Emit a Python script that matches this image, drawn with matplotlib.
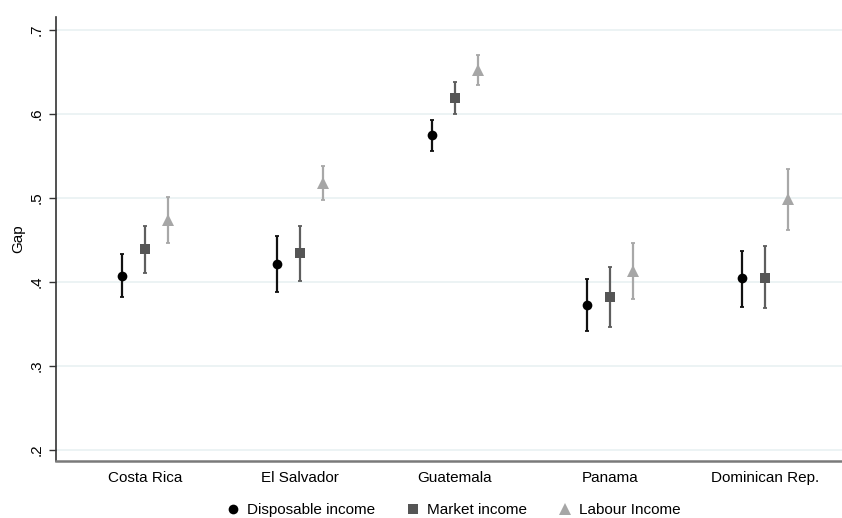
import matplotlib
matplotlib.use('Agg')
import matplotlib.pyplot as plt
import numpy as np

plt.rcParams['font.family'] = ['Liberation Sans', 'DejaVu Sans']

countries = ['Costa Rica', 'El Salvador', 'Guatemala', 'Panama', 'Dominican Rep.']

# point estimates and confidence bounds
disp = [0.407, 0.421, 0.574, 0.372, 0.404]
disp_lo = [0.382, 0.388, 0.555, 0.341, 0.370]
disp_hi = [0.433, 0.454, 0.593, 0.403, 0.437]

market = [0.439, 0.434, 0.619, 0.382, 0.405]
market_lo = [0.410, 0.401, 0.600, 0.346, 0.369]
market_hi = [0.466, 0.466, 0.638, 0.418, 0.442]

labour = [0.474, 0.518, 0.652, 0.413, 0.499]
labour_lo = [0.446, 0.497, 0.634, 0.379, 0.462]
labour_hi = [0.501, 0.538, 0.670, 0.446, 0.534]

series = [
    ('Disposable income', disp, disp_lo, disp_hi, 'o', '#000000', '#111111', 7.0),
    ('Market income', market, market_lo, market_hi, 's', '#555555', '#5e5e5e', 7.2),
    ('Labour Income', labour, labour_lo, labour_hi, '^', '#a6a6a6', '#a8a8a8', 8.0),
]

fig = plt.figure(figsize=(8.42, 5.18), dpi=100)
ax = fig.add_axes([56/842, 1 - 461/518, 1 - 56/842, (461 - 17)/518])

x = np.arange(1, len(countries) + 1)
offsets = [-0.148, 0.0, 0.148]

handles = []
for (name, val, lo, hi, mk, col, ecol, ms), off in zip(series, offsets):
    val = np.array(val)
    err = [val - np.array(lo), np.array(hi) - val]
    ax.errorbar(x + off, val, yerr=err, fmt='none', ecolor=ecol,
                elinewidth=1.6, capsize=1.6, capthick=1.3, zorder=3)
    h, = ax.plot(x + off, val, linestyle='none', marker=mk, color=col,
                 markersize=ms, markeredgewidth=0, label=name, zorder=4)
    handles.append(h)

ax.set_xlim(0.426, 5.497)
ax.set_ylim(0.1869, 0.7149)
ax.set_xticks(x)
ax.set_xticklabels(countries, fontsize=11)
ax.tick_params(axis='x', length=0, pad=7)

yt = [0.2, 0.3, 0.4, 0.5, 0.6, 0.7]
ax.set_yticks(yt)
ax.set_yticklabels(['.2', '.3', '.4', '.5', '.6', '.7'], rotation=90,
                   va='center', fontsize=11)
ax.tick_params(axis='y', length=5, width=1, color='#333333', pad=4)
ax.set_ylabel('Gap', fontsize=11, labelpad=3)

ax.grid(axis='y', color='#ebf2f3', linewidth=1.3)
ax.set_axisbelow(True)
for s in ['top', 'right']:
    ax.spines[s].set_visible(False)
ax.spines['left'].set_color('#333333')
ax.spines['left'].set_linewidth(1.2)
ax.spines['bottom'].set_color('#7a7a7a')
ax.spines['bottom'].set_linewidth(1.8)

fig.legend(handles=handles, loc='center', bbox_to_anchor=(452/842, 1 - 510/518),
           ncol=3, frameon=False, fontsize=11, handletextpad=0.3,
           columnspacing=1.9, handlelength=1.2)

fig.savefig('out.png', dpi=100)
